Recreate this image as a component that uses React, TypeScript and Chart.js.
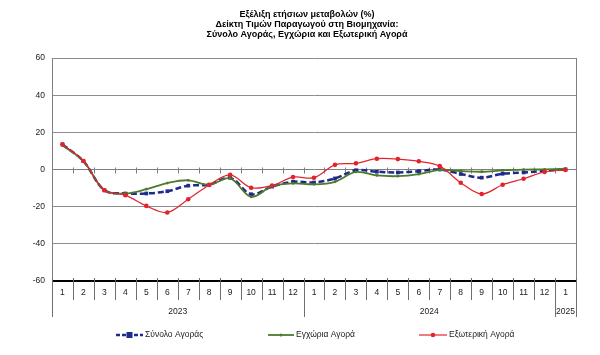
import React, { useEffect, useRef } from "react";
import { Chart, registerables } from "chart.js";

Chart.register(...registerables);

const titleLines = [
  "Εξέλιξη ετήσιων μεταβολών (%)",
  "Δείκτη Τιμών Παραγωγού στη Βιομηχανία:",
  "Σύνολο Αγοράς, Εγχώρια και Εξωτερική Αγορά",
];

const months = [
  "1", "2", "3", "4", "5", "6", "7", "8", "9", "10", "11", "12",
  "1", "2", "3", "4", "5", "6", "7", "8", "9", "10", "11", "12",
  "1",
];
const years = ["2023", "2024", "2025"];
const yearSpans = [12, 12, 1];

const seriesNames = ["Σύνολο Αγοράς", "Εγχώρια Αγορά", "Εξωτερική Αγορά"];

const totalMarket = [
  13.5, 4.5, -11.2, -12.9, -12.9, -11.7, -8.7, -8.2, -4.5, -13.3, -9.2, -6.6,
  -7.0, -4.8, -0.4, -1.2, -1.6, -0.9, 0.0, -2.4, -4.4, -2.3, -1.6, -0.7, 0.1,
];
const domesticMarket = [
  12.9, 4.5, -11.2, -12.9, -10.6, -7.3, -5.8, -8.2, -4.8, -14.7, -9.0, -7.5,
  -8.0, -6.6, -1.3, -3.2, -3.6, -2.5, -0.2, -0.8, -1.2, -0.5, -0.1, 0.1, 0.4,
];
const externalMarket = [
  13.6, 4.6, -11.2, -13.8, -19.6, -23.1, -16.0, -8.3, -2.9, -9.8, -8.6, -4.1,
  -4.4, 2.5, 3.3, 5.8, 5.6, 4.4, 1.8, -7.1, -13.2, -8.2, -5.0, -1.3, -0.3,
];

const yMin = -60;
const yMax = 60;
const yStep = 20;

const BLUE = "#1F2A8F";
const GREEN = "#4E7A2C";
const RED = "#E3232C";
const FONT = "'Liberation Sans', Arial, sans-serif";

const excelAxisPlugin = {
  id: "excelAxis",
  beforeDatasetsDraw(chart: any) {
    const { ctx, chartArea: a, scales } = chart;
    const x = scales.x;
    const y = scales.y;
    const n = months.length;
    const step = x.getPixelForValue(1) - x.getPixelForValue(0);
    const y0 = Math.round(y.getPixelForValue(0)) + 0.5;
    ctx.save();
    ctx.strokeStyle = "#7f7f7f";
    ctx.lineWidth = 1;
    ctx.beginPath();
    for (let i = 1; i < n; i++) {
      const px = Math.round(x.getPixelForValue(i) - step / 2) + 0.5;
      ctx.moveTo(px, y0 - 3);
      ctx.lineTo(px, y0 + 3);
    }
    ctx.stroke();
    // right border
    ctx.beginPath();
    const rx = Math.round(a.right) + 0.5;
    ctx.moveTo(rx, a.top);
    ctx.lineTo(rx, a.bottom);
    ctx.stroke();
    ctx.restore();
  },
  afterDraw(chart: any) {
    const { ctx, chartArea: a, scales } = chart;
    const x = scales.x;
    const n = months.length;
    const step = x.getPixelForValue(1) - x.getPixelForValue(0);
    const bottom = a.bottom;
    ctx.save();

    // title
    ctx.fillStyle = "#000";
    ctx.font = `bold 9px ${FONT}`;
    ctx.textAlign = "center";
    ctx.textBaseline = "middle";
    const tx = (a.left + a.right) / 2 - 7;
    titleLines.forEach((t, i) => {
      ctx.fillText(t, tx, 15 + i * 9.7);
    });

    ctx.strokeStyle = "#6f6f6f";
    ctx.lineWidth = 1;
    // month separators
    ctx.beginPath();
    for (let i = 0; i <= n; i++) {
      const px = Math.round(x.getPixelForValue(i) - step / 2) + 0.5;
      ctx.moveTo(px, bottom - 3);
      ctx.lineTo(px, bottom + 19);
    }
    ctx.stroke();
    // year separators
    ctx.beginPath();
    let start = 0;
    const bounds = [0];
    yearSpans.forEach((s) => {
      start += s;
      bounds.push(start);
    });
    bounds.forEach((b) => {
      const px = Math.round(x.getPixelForValue(b) - step / 2) + 0.5;
      ctx.moveTo(px, bottom);
      ctx.lineTo(px, bottom + 36);
    });
    ctx.stroke();

    ctx.fillStyle = "#1a1a1a";
    ctx.font = `8.5px ${FONT}`;
    ctx.textAlign = "center";
    ctx.textBaseline = "middle";
    months.forEach((m, i) => {
      ctx.fillText(m, x.getPixelForValue(i), bottom + 12);
    });
    years.forEach((yr, k) => {
      const c = (x.getPixelForValue(bounds[k]) + x.getPixelForValue(bounds[k + 1] - 1)) / 2;
      ctx.fillText(yr, c, bottom + 30.5);
    });

    // legend
    const ly = bottom + 54;
    const items = [
      { x0: 116, x1: 143, color: BLUE, dash: [4, 2], width: 2.5, marker: "rect", size: 3 },
      { x0: 268, x1: 294, color: GREEN, dash: [], width: 1.8, marker: "circle", size: 1.5 },
      { x0: 419, x1: 447, color: RED, dash: [], width: 1.2, marker: "circle", size: 2.3 },
    ];
    ctx.textAlign = "left";
    ctx.font = `8.5px ${FONT}`;
    items.forEach((it, k) => {
      ctx.strokeStyle = it.color;
      ctx.fillStyle = it.color;
      ctx.lineWidth = it.width;
      ctx.setLineDash(it.dash);
      ctx.beginPath();
      ctx.moveTo(it.x0, ly);
      ctx.lineTo(it.x1, ly);
      ctx.stroke();
      ctx.setLineDash([]);
      const mx = (it.x0 + it.x1) / 2;
      ctx.beginPath();
      if (it.marker === "rect") {
        ctx.rect(mx - it.size, ly - it.size, it.size * 2, it.size * 2);
      } else {
        ctx.arc(mx, ly, it.size, 0, Math.PI * 2);
      }
      ctx.fill();
      ctx.fillStyle = "#1a1a1a";
      ctx.fillText(seriesNames[k], it.x1 + 2, ly);
    });
    ctx.restore();
  },
};

export default function App() {
  const canvasRef = useRef<HTMLCanvasElement | null>(null);

  useEffect(() => {
    if (!canvasRef.current) return;
    const chart = new Chart(canvasRef.current, {
      type: "line",
      data: {
        labels: months,
        datasets: [
          {
            label: seriesNames[2],
            data: externalMarket,
            borderColor: RED,
            backgroundColor: RED,
            borderWidth: 1.2,
            pointRadius: 2.3,
            pointStyle: "circle",
            pointBorderWidth: 0,
            tension: 0.35,
            order: 0,
          },
          {
            label: seriesNames[1],
            data: domesticMarket,
            borderColor: GREEN,
            backgroundColor: GREEN,
            borderWidth: 1.8,
            pointRadius: 1.4,
            pointBorderWidth: 0,
            tension: 0.35,
            order: 1,
          },
          {
            label: seriesNames[0],
            data: totalMarket,
            borderColor: BLUE,
            backgroundColor: BLUE,
            borderWidth: 2.5,
            borderDash: [6, 3],
            pointStyle: "rect",
            pointRadius: 2.6,
            pointBorderWidth: 0,
            tension: 0.35,
            order: 2,
          },
        ],
      },
      options: {
        animation: false,
        responsive: false,
        maintainAspectRatio: false,
        layout: { padding: { left: 0, right: 24, top: 58, bottom: 74 } },
        plugins: {
          legend: { display: false },
          tooltip: { enabled: false },
          title: { display: false },
        },
        scales: {
          x: {
            type: "category",
            offset: true,
            display: false,
          },
          y: {
            min: yMin,
            max: yMax,
            afterFit: (scale: any) => {
              scale.width = 52;
            },
            ticks: {
              stepSize: yStep,
              color: "#1a1a1a",
              font: { family: FONT, size: 8.5 },
              padding: 7,
            },
            grid: {
              drawTicks: false,
              color: (c: any) =>
                c.tick && c.tick.value === yMin
                  ? "#000"
                  : c.tick && c.tick.value === 0
                  ? "#7f7f7f"
                  : "#8c8c8c",
              lineWidth: (c: any) => (c.tick && c.tick.value === yMin ? 2 : 1),
            },
            border: { display: true, color: "#7f7f7f", width: 1 },
          },
        },
      },
      plugins: [excelAxisPlugin],
    });
    return () => chart.destroy();
  }, []);

  return (
    <div style={{ position: "fixed", left: 0, top: 0, width: 600, height: 355, background: "#fff" }}>
      <canvas ref={canvasRef} width={600} height={355} style={{ width: 600, height: 355 }} />
    </div>
  );
}
